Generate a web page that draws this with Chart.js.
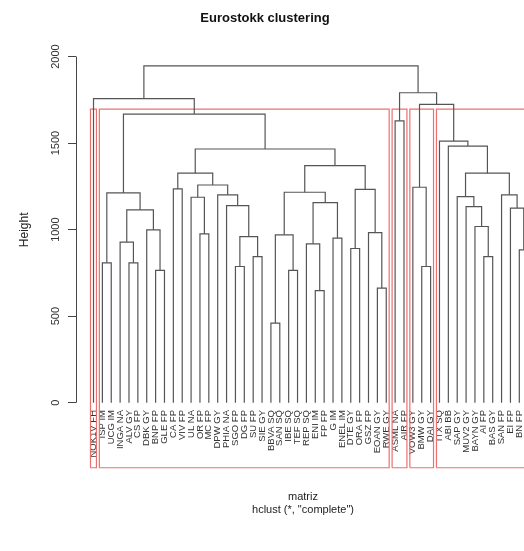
<!DOCTYPE html>
<html>
<head>
<meta charset="utf-8">
<script src="https://cdn.jsdelivr.net/npm/chart.js@4.4.1/dist/chart.umd.min.js"></script>
<style>
  html, body { margin: 0; padding: 0; background: #fff; overflow: hidden; }
  canvas { display: block; }
</style>
</head>
<body>
<canvas id="myChart" width="530" height="551"></canvas>
<script>
// leaves, in the order the dendrogram draws them
const leafLabels = [
  'NOK1V FH', 'ISP IM', 'UCG IM', 'INGA NA', 'ALV GY', 'CS FP', 'DBK GY', 'BNP FP', 'GLE FP', 'CA FP',
  'VIV FP', 'UL NA', 'OR FP', 'MC FP', 'DPW GY', 'PHIA NA', 'SGO FP', 'DG FP', 'SU FP', 'SIE GY',
  'BBVA SQ', 'SAN SQ', 'IBE SQ', 'TEF SQ', 'REP SQ', 'ENI IM', 'FP FP', 'G IM', 'ENEL IM', 'DTE GY',
  'ORA FP', 'GSZ FP', 'EOAN GY', 'RWE GY', 'ASML NA', 'AIR FP', 'VOW3 GY', 'BMW GY', 'DAI GY', 'ITX SQ',
  'ABI BB', 'SAP GY', 'MUV2 GY', 'BAYN GY', 'AI FP', 'BAS GY', 'SAN FP', 'EI FP', 'BN FP', 'UNA NA'
];

// hclust merge table: negative = leaf number, positive = earlier merge row
const mergeLeft = [-21, -26, -33, -8, -23, -17, -38, -2, -5, -19, -45, -49, -30, -25, -4, -28, 6, 1, -13, -32,
  -7, -44, 15, -48, -43, -16, 14, -12, -42, -15, -47, 8, 18, 13, -10, -37, 28, 35, 29, 33,
  38, -41, -40, -35, 32, 36, -1, 44, 47];
const mergeRight = [-22, -27, -34, -9, -24, -18, -39, -3, -6, -20, -46, -50, -31, 2, 9, -29, 10, 5, -14, 3,
  4, 11, 21, 12, 22, 17, 16, 19, 25, 26, 24, 23, 27, 20, -11, 7, 30, 37, 31, 34,
  40, 39, 42, -36, 41, 43, 45, 46, 48];
const mergeHeight = [460, 648, 662, 764, 764, 787, 787, 808, 808, 844, 844, 883, 891, 918, 928, 951, 960, 970, 975, 983,
  999, 1018, 1114, 1124, 1133, 1139, 1156, 1187, 1191, 1201, 1201, 1212, 1216, 1233, 1235, 1245, 1258, 1326, 1326, 1370,
  1466, 1483, 1512, 1629, 1668, 1724, 1757, 1791, 1946];

const yTicks = [0, 500, 1000, 1500, 2000];
const clusterCount = 5;

// x of a leaf is its rank, x of a merge is the middle of its two children
const nodeX = [];
const xOf = (id) => id < 0 ? -id : nodeX[id - 1];
const hOf = (id) => id < 0 ? 0 : mergeHeight[id - 1];
mergeLeft.forEach((a, i) => nodeX.push((xOf(a) + xOf(mergeRight[i])) / 2));

const branchSets = mergeLeft.map((a, i) => {
  const b = mergeRight[i];
  const h = mergeHeight[i];
  return {
    data: [{x: xOf(a), y: hOf(a)}, {x: xOf(a), y: h}, {x: xOf(b), y: h}, {x: xOf(b), y: hOf(b)}],
    borderColor: '#555',
    borderWidth: 1.2
  };
});

// rect.hclust: cut into clusterCount groups
const sortedH = [...mergeHeight].sort((p, q) => q - p);
const cutHeight = (sortedH[clusterCount - 2] + sortedH[clusterCount - 1]) / 2;
const leavesOf = (id) => id < 0 ? [-id] : leavesOf(mergeLeft[id - 1]).concat(leavesOf(mergeRight[id - 1]));
const groups = [];
const cutTree = (id) => {
  if (id > 0 && mergeHeight[id - 1] > cutHeight) {
    cutTree(mergeLeft[id - 1]);
    cutTree(mergeRight[id - 1]);
  } else {
    groups.push(leavesOf(id));
  }
};
cutTree(mergeLeft.length);

const plotBottom = -376; // bottom of the plot region, where the boxes end
const rectSets = groups.map(g => {
  const l = Math.min(...g) - 0.34;
  const r = Math.max(...g) + 0.33;
  return {
    data: [{x: l, y: plotBottom}, {x: l, y: cutHeight}, {x: r, y: cutHeight}, {x: r, y: plotBottom}, {x: l, y: plotBottom}],
    borderColor: 'rgb(236,112,112)',
    borderWidth: 1.2,
    clip: false
  };
});

// R style y axis line, only from first to last tick
const axisLine = {
  id: 'axisLine',
  afterDraw(chart) {
    const sc = chart.scales.y;
    const ctx = chart.ctx;
    const x = Math.round(chart.chartArea.left) + 0.5;
    ctx.save();
    ctx.strokeStyle = '#444';
    ctx.lineWidth = 1;
    ctx.beginPath();
    ctx.moveTo(x, sc.getPixelForValue(yTicks[0]));
    ctx.lineTo(x, sc.getPixelForValue(yTicks[yTicks.length - 1]));
    ctx.stroke();
    ctx.restore();
  }
};

const font = "'Liberation Sans', Arial, sans-serif";
const ctx = document.getElementById('myChart').getContext('2d');
const myChart = new Chart(ctx, {
  type: 'scatter',
  data: { datasets: branchSets.concat(rectSets) },
  options: {
    responsive: false,
    animation: false,
    showLine: true,
    elements: { point: { radius: 0, hoverRadius: 0 }, line: { tension: 0, fill: false } },
    layout: { padding: 0 },
    plugins: {
      legend: { display: false },
      tooltip: { enabled: false },
      title: {
        display: true,
        text: 'Eurostokk clustering',
        color: '#111',
        font: { family: font, size: 13, weight: 'bold' },
        padding: { top: 11, bottom: 26 }
      }
    },
    scales: {
      x: {
        type: 'linear',
        min: -0.973,
        max: 50.205,
        afterBuildTicks: (scale) => { scale.ticks = leafLabels.map((_, i) => ({ value: i + 1 })); },
        afterFit: (scale) => {
          scale.height = 144;
          scale.paddingLeft = 0;
          scale.paddingRight = 0;
        },
        grid: { display: false, drawTicks: false },
        border: { display: false },
        ticks: {
          autoSkip: false,
          minRotation: 90,
          maxRotation: 90,
          padding: 3,
          color: '#333',
          font: { family: font, size: 9.5 },
          callback: (v) => leafLabels[v - 1]
        },
        title: {
          display: true,
          text: ['matriz', 'hclust (*, "complete")'],
          color: '#222',
          font: { family: font, size: 11 },
          padding: { top: 0, bottom: 34 }
        }
      },
      y: {
        min: -25,
        max: 2023,
        afterBuildTicks: (scale) => { scale.ticks = yTicks.map(v => ({ value: v })); },
        afterFit: (scale) => { scale.width = 76; },
        grid: { drawOnChartArea: false, drawTicks: true, tickLength: 8, color: '#444' },
        border: { display: false },
        ticks: {
          minRotation: 90,
          maxRotation: 90,
          crossAlign: 'center',
          padding: 0,
          color: '#333',
          font: { family: font, size: 11 },
          callback: (v) => String(v)
        },
        title: {
          display: true,
          text: 'Height',
          color: '#222',
          font: { family: font, size: 12 },
          padding: { top: 17, bottom: 0 }
        }
      }
    }
  },
  plugins: [axisLine]
});
</script>
</body>
</html>
